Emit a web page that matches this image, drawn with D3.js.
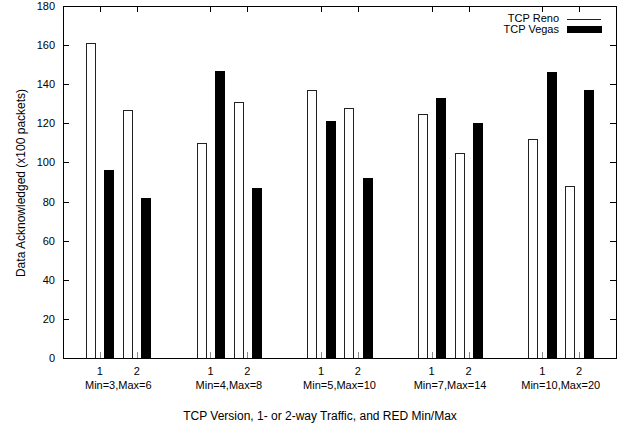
<!DOCTYPE html>
<html>
<head>
<meta charset="utf-8">
<script src="https://cdn.jsdelivr.net/npm/d3@7"></script>
<style>
  body { margin: 0; background: #fff; }
  svg text { font-family: "Liberation Sans", Arial, sans-serif; fill: #000; }
</style>
</head>
<body>
<div id="graph"></div>
<script>
// Données
const groupes = ["Min=3,Max=6", "Min=4,Max=8", "Min=5,Max=10", "Min=7,Max=14", "Min=10,Max=20"];
const trafic = ["1", "2"];
const reno  = [161, 127, 110, 131, 137, 128, 125, 105, 112, 88];
const vegas = [96, 82, 147, 87, 121, 92, 133, 120, 146, 137];
const yTicks = [0, 20, 40, 60, 80, 100, 120, 140, 160, 180];

// table à plat : un point par (groupe, trafic)
const points = [];
groupes.forEach((g, gi) => {
  trafic.forEach((t, ti) => {
    const i = gi * trafic.length + ti;
    points.push({ groupe: g, trafic: t, pos: gi * 3 + ti + 1, reno: reno[i], vegas: vegas[i] });
  });
});

//---------------------------------------------------------------------------------------

const W = 629, H = 427;
const margin = { left: 63, right: 13, top: 6, bottom: 69 };

const svg = d3.select('#graph')
  .append('svg')
  .attr('width', W)
  .attr('height', H);

const scaleX = d3.scaleLinear().domain([0, 15]).range([margin.left, W - margin.right]);
const scaleY = d3.scaleLinear().domain([0, 180]).range([H - margin.bottom, margin.top]);

const x0 = scaleX.range()[0], x1 = scaleX.range()[1];
const y0 = scaleY.range()[0], y1 = scaleY.range()[1];
const bw = scaleX(0.25) - scaleX(0);
const tk = 6;
const fsTick = 11, fsTitre = 12;

//---------------------------------------------------------------------------------------

// ticks bas (gris, derrière les barres)
svg.append('g')
  .selectAll('line')
  .data(points)
  .join('line')
  .attr('x1', d => Math.round(scaleX(d.pos)) + 0.5)
  .attr('x2', d => Math.round(scaleX(d.pos)) + 0.5)
  .attr('y1', y0)
  .attr('y2', y0 - tk)
  .attr('stroke', '#888');

// barres Reno
svg.append('g')
  .selectAll('rect')
  .data(points)
  .join('rect')
  .attr('x', d => Math.round(scaleX(d.pos - 0.25) - bw / 2) + 0.5)
  .attr('y', d => Math.round(scaleY(d.reno)) + 0.5)
  .attr('width', Math.round(bw))
  .attr('height', d => y0 - Math.round(scaleY(d.reno)))
  .attr('fill', '#fff')
  .attr('stroke', '#222')
  .attr('stroke-width', 1);

// barres Vegas
svg.append('g')
  .selectAll('rect')
  .data(points)
  .join('rect')
  .attr('x', d => Math.round(scaleX(d.pos + 0.25) - bw / 2))
  .attr('y', d => Math.round(scaleY(d.vegas)))
  .attr('width', Math.round(bw) + 1)
  .attr('height', d => y0 - Math.round(scaleY(d.vegas)))
  .attr('fill', '#000');

//---------------------------------------------------------------------------------------

// cadre
svg.append('rect')
  .attr('x', x0 + 0.5)
  .attr('y', y1 + 0.5)
  .attr('width', x1 - x0)
  .attr('height', y0 - y1)
  .attr('fill', 'none')
  .attr('stroke', '#000');

// ticks haut
svg.append('g')
  .selectAll('line')
  .data(points)
  .join('line')
  .attr('x1', d => Math.round(scaleX(d.pos)) + 0.5)
  .attr('x2', d => Math.round(scaleX(d.pos)) + 0.5)
  .attr('y1', y1)
  .attr('y2', y1 + tk)
  .attr('stroke', '#000');

// ticks Y gauche et droite
const gy = svg.append('g');
gy.selectAll('.tl')
  .data(yTicks.slice(1, -1))
  .join('line')
  .attr('x1', x0)
  .attr('x2', x0 + tk)
  .attr('y1', d => Math.round(scaleY(d)) + 0.5)
  .attr('y2', d => Math.round(scaleY(d)) + 0.5)
  .attr('stroke', '#000');
gy.selectAll('.tr')
  .data(yTicks.slice(1, -1))
  .join('line')
  .attr('x1', x1)
  .attr('x2', x1 - tk)
  .attr('y1', d => Math.round(scaleY(d)) + 0.5)
  .attr('y2', d => Math.round(scaleY(d)) + 0.5)
  .attr('stroke', '#000');

// labels Y
svg.append('g')
  .selectAll('text')
  .data(yTicks)
  .join('text')
  .attr('x', x0 - 8)
  .attr('y', d => scaleY(d) + 4)
  .attr('text-anchor', 'end')
  .attr('font-size', fsTick)
  .text(d => d);

// labels X : 1 / 2
svg.append('g')
  .selectAll('text')
  .data(points)
  .join('text')
  .attr('x', d => scaleX(d.pos))
  .attr('y', y0 + 17)
  .attr('text-anchor', 'middle')
  .attr('font-size', fsTick)
  .text(d => d.trafic);

// labels groupes
svg.append('g')
  .selectAll('text')
  .data(groupes)
  .join('text')
  .attr('x', (d, i) => scaleX(i * 3 + 1.5))
  .attr('y', y0 + 31)
  .attr('text-anchor', 'middle')
  .attr('font-size', fsTick)
  .text(d => d);

// titres d'axes
svg.append('text')
  .attr('x', 320)
  .attr('y', 420)
  .attr('text-anchor', 'middle')
  .attr('font-size', fsTitre)
  .text('TCP Version, 1- or 2-way Traffic, and RED Min/Max');

svg.append('text')
  .attr('transform', `translate(25, 183) rotate(-90)`)
  .attr('text-anchor', 'middle')
  .attr('font-size', fsTitre)
  .text('Data Acknowledged (x100 packets)');

//---------------------------------------------------------------------------------------

// légende
const legende = svg.append('g');
legende.append('text')
  .attr('x', 559)
  .attr('y', 22)
  .attr('text-anchor', 'end')
  .attr('font-size', fsTick)
  .text('TCP Reno');
legende.append('line')
  .attr('x1', 567)
  .attr('x2', 601)
  .attr('y1', 19.5)
  .attr('y2', 19.5)
  .attr('stroke', '#222');
legende.append('text')
  .attr('x', 559)
  .attr('y', 33)
  .attr('text-anchor', 'end')
  .attr('font-size', fsTick)
  .text('TCP Vegas');
legende.append('rect')
  .attr('x', 567)
  .attr('y', 26)
  .attr('width', 35)
  .attr('height', 7)
  .attr('fill', '#000');
</script>
</body>
</html>
